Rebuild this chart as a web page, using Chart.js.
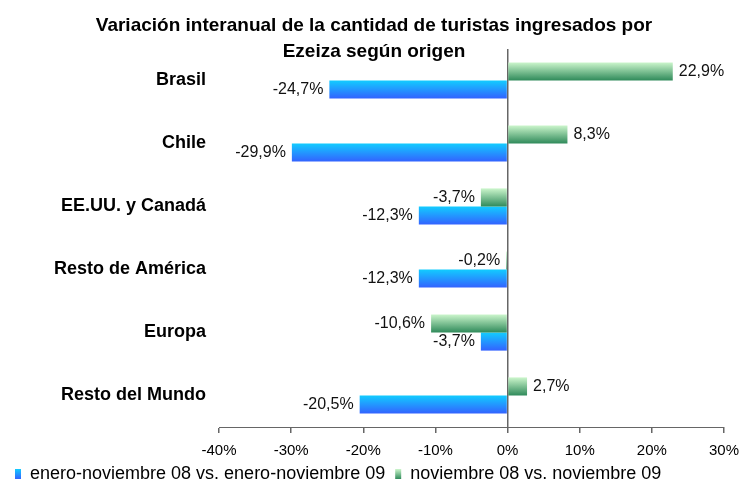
<!DOCTYPE html>
<html>
<head>
<meta charset="utf-8">
<script src="https://cdn.jsdelivr.net/npm/chart.js@4"></script>
<style>
  html, body { margin: 0; padding: 0; background: #fff; }
  #wrap { position: relative; width: 748px; height: 485px; }
  #titulo {
    position: absolute; left: 0; top: 12px; width: 748px;
    text-align: center; font: bold 19px "Liberation Sans", Arial, sans-serif;
    line-height: 26px; color: #000;
  }
</style>
</head>
<body>
<div id="wrap">
  <canvas id="chartOrigen" width="748" height="485"></canvas>
  <div id="titulo">Variación interanual de la cantidad de turistas ingresados por<br>Ezeiza según origen</div>
</div>
<script>
const origenes = ['Brasil', 'Chile', 'EE.UU. y Canadá', 'Resto de América', 'Europa', 'Resto del Mundo'];
const eneroNoviembre = [-24.7, -29.9, -12.3, -12.3, -3.7, -20.5];
const noviembre = [22.9, 8.3, -3.7, -0.2, -10.6, 2.7];
const ticksX = [-40, -30, -20, -10, 0, 10, 20, 30];

const CAT_PCT = 0.575;
const AZUL = ['#12ccff', '#3362ff'];
const VERDE = ['#ccf6cc', '#2f8a5a'];

// degradado vertical por barra, como en el original
function degradado(ctx, colores, solido) {
    if (ctx.type !== 'data') return solido;
    const chart = ctx.chart;
    const y = chart.scales.y;
    if (!y || !chart.chartArea) return solido;
    const centro = y.getPixelForValue(ctx.dataIndex);
    const grosor = (y.height / origenes.length) * CAT_PCT / 2;
    const top = ctx.datasetIndex === 0 ? centro - grosor : centro;
    const g = chart.ctx.createLinearGradient(0, top, 0, top + grosor);
    g.addColorStop(0, colores[0]);
    g.addColorStop(1, colores[1]);
    return g;
}

function leyenda(chart) {
    const items = Chart.defaults.plugins.legend.labels.generateLabels(chart);
    const lg = chart.legend;
    if (!lg || lg.top === undefined) return items;
    const y0 = lg.top + 10 + 4;
    items.forEach(it => {
        const cols = it.datasetIndex === 0 ? VERDE : AZUL;
        const g = chart.ctx.createLinearGradient(0, y0, 0, y0 + 10);
        g.addColorStop(0, cols[0]);
        g.addColorStop(1, cols[1]);
        it.fillStyle = g;
        it.strokeStyle = 'transparent';
        it.lineWidth = 0;
    });
    return items;
}

const etiquetas = {
    id: 'etiquetas',
    afterDatasetsDraw(chart) {
        const c = chart.ctx;
        c.save();
        c.font = '16px "Liberation Sans", Arial, sans-serif';
        c.fillStyle = '#111';
        c.textBaseline = 'middle';
        chart.data.datasets.forEach((ds, i) => {
            chart.getDatasetMeta(i).data.forEach((bar, j) => {
                const v = ds.data[j];
                const txt = v.toFixed(1).replace('.', ',') + '%';
                if (v < 0) {
                    c.textAlign = 'right';
                    c.fillText(txt, bar.x - 6, bar.y);
                } else {
                    c.textAlign = 'left';
                    c.fillText(txt, bar.x + 6, bar.y);
                }
            });
        });
        c.restore();
    }
};

Chart.defaults.font.family = '"Liberation Sans", Arial, sans-serif';
Chart.defaults.color = '#000';

new Chart(document.getElementById('chartOrigen'), {
    type: 'bar',
    data: {
        labels: origenes,
        datasets: [
            {
                label: 'noviembre 08 vs. noviembre 09',
                data: noviembre,
                backgroundColor: ctx => degradado(ctx, VERDE, '#6fc386'),
                categoryPercentage: CAT_PCT,
                barPercentage: 1
            },
            {
                label: 'enero-noviembre 08 vs. enero-noviembre 09',
                data: eneroNoviembre,
                backgroundColor: ctx => degradado(ctx, AZUL, '#2a8cff'),
                categoryPercentage: CAT_PCT,
                barPercentage: 1
            }
        ]
    },
    options: {
        indexAxis: 'y',
        responsive: false,
        animation: false,
        layout: { padding: { top: 49, left: 5, right: 18, bottom: -8 } },
        scales: {
            x: {
                min: -40,
                max: 30,
                afterBuildTicks: s => { s.ticks = ticksX.map(v => ({ value: v })); },
                afterFit: s => { s.height = 28; },
                ticks: {
                    callback: v => v + '%',
                    font: { size: 15 },
                    padding: 9
                },
                grid: {
                    color: ctx => ctx.tick && ctx.tick.value === 0 ? '#666' : 'transparent',
                    lineWidth: 1.5,
                    tickColor: '#666',
                    tickLength: 6
                },
                border: { display: true, color: '#666', width: 1 }
            },
            y: {
                afterFit: s => { s.width = 214; },
                ticks: {
                    font: { size: 18, weight: 'bold' },
                    padding: 13
                },
                grid: { display: false, drawTicks: false },
                border: { display: false }
            }
        },
        plugins: {
            title: { display: false },
            tooltip: { enabled: false },
            legend: {
                position: 'bottom',
                align: 'start',
                reverse: true,
                labels: {
                    boxWidth: 6,
                    boxHeight: 10,
                    padding: 10,
                    font: { size: 18, lineHeight: 1 },
                    generateLabels: leyenda
                }
            }
        }
    },
    plugins: [etiquetas]
});
</script>
</body>
</html>
